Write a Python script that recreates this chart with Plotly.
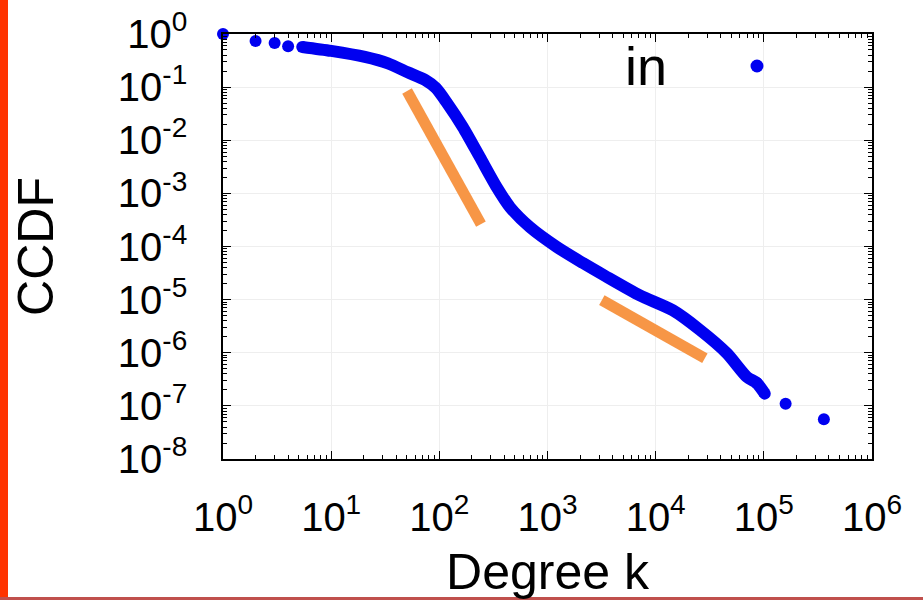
import plotly.graph_objects as go

# CCDF of in-degree
degree = [1, 2, 3, 4, 5.4, 10, 20.5, 33.5, 51, 74, 93, 118, 165, 237, 340, 450,
          690, 1220, 2120, 3400, 7140, 14400, 25600, 45500, 69800, 86000, 102000,
          159000, 359000]
ccdf = [1.0, 0.74, 0.68, 0.59, 0.57, 0.48, 0.37, 0.28, 0.19, 0.136, 0.096, 0.050,
        0.0177, 0.0048, 0.0013, 5.5e-4, 2.3e-4, 9.8e-5, 4.9e-5, 2.8e-5, 1.2e-5,
        6.3e-6, 2.7e-6, 9.8e-7, 3.5e-7, 2.7e-7, 1.7e-7, 1.1e-7, 5.6e-8]

# power-law guide segments (orange)
guide1_k = [50.3, 242.5]
guide1_c = [0.0845, 2.64e-4]
guide2_k = [3180, 28500]
guide2_c = [9.8e-6, 7.9e-7]

x_tickvals = [1, 10, 100, 1e3, 1e4, 1e5, 1e6]
x_ticktext = ["10<sup>%d</sup>" % i for i in range(7)]
y_tickvals = [1, 1e-1, 1e-2, 1e-3, 1e-4, 1e-5, 1e-6, 1e-7, 1e-8]
y_ticktext = ["10<sup>%d</sup>" % -i if i else "10<sup>0</sup>" for i in range(9)]

legend_name = "in"

BLUE = "#0000f0"
ORANGE = "#f79646"
FONT = "Liberation Sans, Arial, sans-serif"

fig = go.Figure()

# dense part of the curve drawn as a thick smooth line under the markers
fig.add_trace(go.Scatter(
    x=degree[4:27], y=ccdf[4:27], mode="lines",
    line=dict(color=BLUE, width=12, shape="spline", smoothing=0.7),
    showlegend=False, hoverinfo="skip", cliponaxis=False,
))
fig.add_trace(go.Scatter(
    x=degree[:5] + degree[25:], y=ccdf[:5] + ccdf[25:], mode="markers",
    name=legend_name,
    marker=dict(color=BLUE, size=12),
    showlegend=False, cliponaxis=False,
))
fig.add_trace(go.Scatter(
    x=guide1_k, y=guide1_c, mode="lines",
    line=dict(color=ORANGE, width=11),
    showlegend=False, hoverinfo="skip",
))
fig.add_trace(go.Scatter(
    x=guide2_k, y=guide2_c, mode="lines",
    line=dict(color=ORANGE, width=11),
    showlegend=False, hoverinfo="skip",
))

# plot area in pixels: x 223..872, y 34..459
L, R, T, B = 223, 51, 34, 141
W, H = 923, 600
pw, ph = W - L - R, H - T - B


def px_x(p):
    return (p - L) / pw


def px_y(p):
    return (H - B - p) / ph


axis_common = dict(
    type="log", automargin=False,
    showline=True, linecolor="black", linewidth=1.5,
    mirror="ticks", ticks="inside", ticklen=8, tickcolor="black", tickwidth=1,
    showgrid=True, gridcolor="#eeeeee", gridwidth=1,
    zeroline=False,
    tickmode="array",
    tickfont=dict(size=40, color="black", family=FONT),
    minor=dict(ticks="inside", ticklen=4, tickcolor="black", dtick="D1", showgrid=False),
)

fig.update_layout(
    width=W, height=H, autosize=False,
    margin=dict(l=L, r=R, t=T, b=B),
    paper_bgcolor="white", plot_bgcolor="white",
    font=dict(family=FONT, color="black"),
    xaxis=dict(
        axis_common, range=[0, 6], tickvals=x_tickvals, ticktext=x_ticktext,
        ticklabelstandoff=22,
        title=dict(text="Degree k", font=dict(size=50), standoff=30),
    ),
    yaxis=dict(
        axis_common, range=[-8, 0], tickvals=y_tickvals, ticktext=y_ticktext,
        ticklabelstandoff=26,
        title=dict(text="CCDF", font=dict(size=50), standoff=48),
    ),
    showlegend=False,
    annotations=[
        dict(xref="paper", yref="paper", x=px_x(646), y=px_y(66), text=legend_name,
             showarrow=False, font=dict(size=54, color="black"),
             xanchor="center", yanchor="middle"),
    ],
    shapes=[
        # legend key marker
        dict(type="circle", xref="paper", yref="paper",
             xsizemode="pixel", ysizemode="pixel",
             xanchor=px_x(757), yanchor=px_y(66),
             x0=-6.5, x1=6.5, y0=-6.5, y1=6.5,
             fillcolor=BLUE, line=dict(width=0)),
        # red bar on the left edge of the picture
        dict(type="rect", xref="paper", yref="paper",
             x0=px_x(0), x1=px_x(8), y0=px_y(600), y1=px_y(0),
             fillcolor="#ff3300", line=dict(width=0)),
        # thin line along the bottom edge
        dict(type="rect", xref="paper", yref="paper",
             x0=px_x(0), x1=px_x(923), y0=px_y(600), y1=px_y(597),
             fillcolor="#c0504d", line=dict(width=0)),
    ],
)

# drop the page's default body margin so the figure sits at the window corner
fig.write_html(
    "out.html",
    config={"displayModeBar": False},
    post_script="document.body.style.margin='0';document.body.style.overflow='hidden';",
)
